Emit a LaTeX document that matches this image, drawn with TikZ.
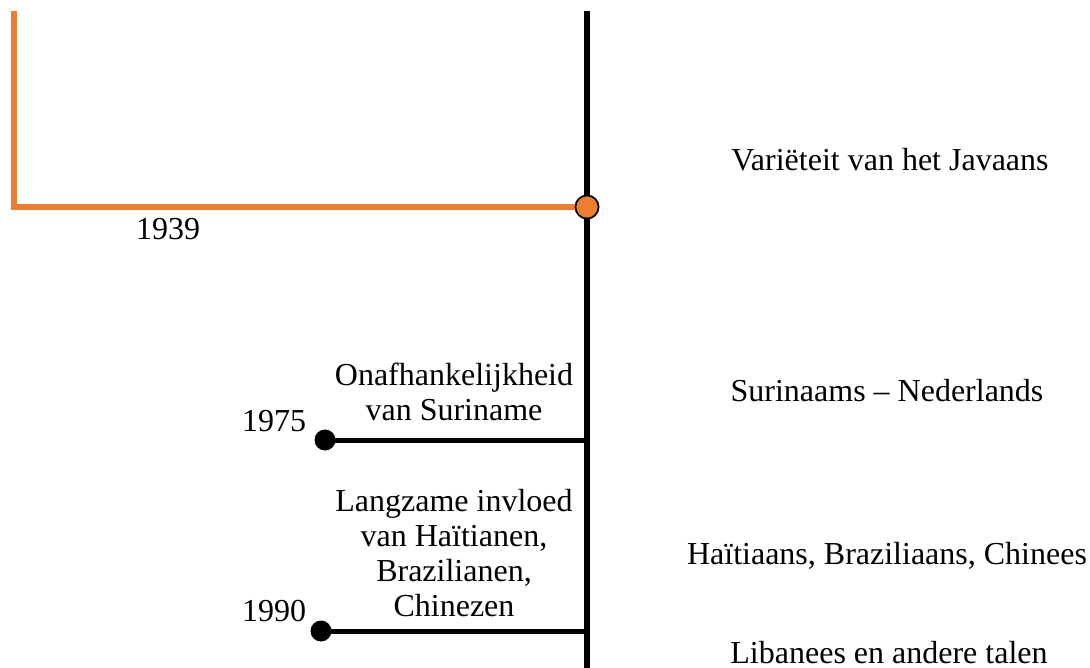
\documentclass[tikz,border=0pt]{standalone}
\usepackage{fontspec}
\setmainfont{Liberation Serif}
\definecolor{accent}{RGB}{237,125,49}
\begin{document}
\begin{tikzpicture}[x=1pt,y=-1pt,
  txt/.style={font=\fontsize{32}{35}\selectfont, align=center, inner sep=0pt},
  axis/.style={line width=6pt, black},
  branch/.style={line width=5pt, black},
  hist/.style={line width=6pt, accent},
  enddot/.style={circle, fill=black, minimum size=21pt, inner sep=0pt},
  hub/.style={circle, fill=accent, draw=black, line width=1.6pt, minimum size=23pt, inner sep=0pt}]
\useasboundingbox (0,0) rectangle (1090,668);

% main axis
\coordinate (axtop) at (587,11);
\coordinate (axbot) at (587,670);
\draw[axis] (axtop) -- (axbot);

% 1939 branch
\coordinate (histtop) at (14,11);
\coordinate (histcorner) at (14,207);
\node[hub] (h1939) at (587,207) {};
\draw[hist, line join=miter] (histtop) -- (histcorner) -- (h1939.west);
\node[hub] at (h1939) {};

% 1975 and 1990 branches
\coordinate (j1975) at (587,440);
\node[enddot] (d1975) at (325,440) {};
\draw[branch] (d1975.center) -- (j1975);

\coordinate (j1990) at (587,631);
\node[enddot] (d1990) at (321,631) {};
\draw[branch] (d1990.center) -- (j1990);

% labels
\node[txt] (y1939) at (168,229) {1939};
\node[txt] (y1975) at (274,421) {1975};
\node[txt] (y1990) at (274,611) {1990};
\node[txt] (e1975) at (454,392) {Onafhankelijkheid\\van Suriname};
\node[txt] (e1990) at (454,553) {Langzame invloed\\van Haïtianen,\\Brazilianen,\\Chinezen};

\node[txt] (l1) at (890,160) {Variëteit van het Javaans};
\node[txt] (l2) at (887,391) {Surinaams – Nederlands};
\node[txt] (l3) at (887,556) {Haïtiaans, Braziliaans, Chinees};
\node[txt, anchor=base] (l4) at (889,663) {Libanees en andere talen};
\end{tikzpicture}
\end{document}
